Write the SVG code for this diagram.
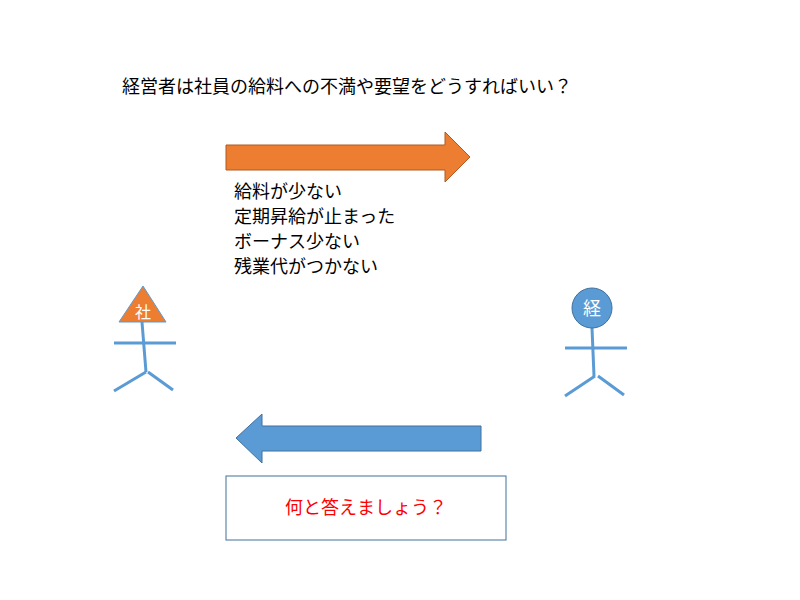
<svg xmlns="http://www.w3.org/2000/svg" width="800" height="600" viewBox="0 0 800 600">
<style>
text{font-family:"Noto Sans CJK JP","Noto Sans",sans-serif}
.l{stroke:#5b9bd5;stroke-width:3;fill:none}
.t{font-size:18px;fill:#000}
</style>
<rect width="800" height="600" fill="#fff"/>
<text x="122" y="93" class="t">経営者は社員の給料への不満や要望をどうすればいい？</text>
<g id="arrow-right"><polygon points="226,145 445,145 445,132 470,157 445,182 445,170 226,170" fill="#ed7d31" stroke="#ae5a21" stroke-width="1"/></g>
<g id="complaints">
<text x="234" y="198" class="t">給料が少ない</text>
<text x="234" y="223" class="t">定期昇給が止まった</text>
<text x="234" y="248" class="t">ボーナス少ない</text>
<text x="234" y="273" class="t">残業代がつかない</text>
</g>
<g id="employee">
<line class="l" x1="142" y1="322" x2="146" y2="372"/>
<line class="l" x1="114" y1="343" x2="176" y2="343"/>
<line class="l" x1="146" y1="372" x2="114" y2="391"/>
<line class="l" x1="148" y1="372" x2="173" y2="390"/>
<polygon points="143,286 119,322 166,322" fill="#ed7d31" stroke="#5b9bd5" stroke-width="1"/>
<text x="143" y="318" font-size="16" fill="#fff" text-anchor="middle">社</text>
</g>
<g id="manager">
<line class="l" x1="592" y1="328" x2="594" y2="376"/>
<line class="l" x1="565" y1="348" x2="627" y2="348"/>
<line class="l" x1="595" y1="376" x2="565" y2="396"/>
<line class="l" x1="598" y1="376" x2="624" y2="395"/>
<circle cx="592" cy="308" r="20" fill="#5b9bd5" stroke="#41719c" stroke-width="1"/>
<text x="592" y="315" font-size="18" fill="#fff" text-anchor="middle">経</text>
</g>
<g id="arrow-left"><polygon points="481,426 262,426 262,414 236,438 262,463 262,451 481,451" fill="#5b9bd5" stroke="#41719c" stroke-width="1"/></g>
<g id="answer-box">
<rect x="226" y="476" width="280" height="64" fill="#fff" stroke="#41719c" stroke-width="1"/>
<text x="366" y="514" font-size="18" fill="#ff0000" text-anchor="middle">何と答えましょう？</text>
</g>
</svg>
